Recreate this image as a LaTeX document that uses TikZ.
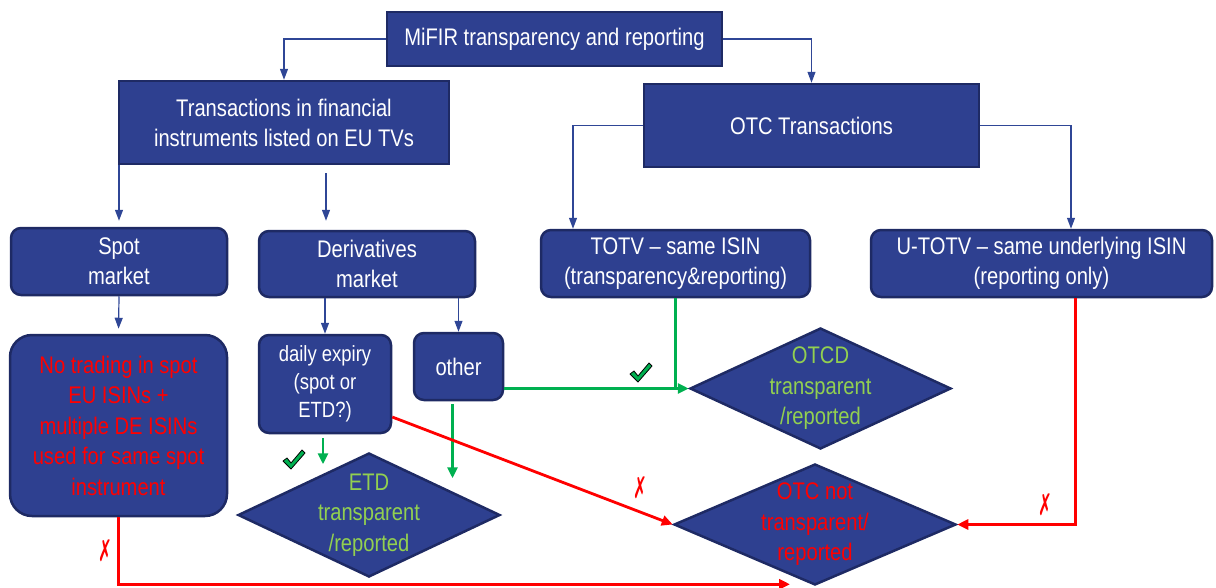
\documentclass[tikz,border=0pt]{standalone}
\usepackage{fontspec}
\setmainfont{Liberation Sans}[FakeStretch=0.84]
\newfontfamily\symfont{DejaVu Sans}
\usetikzlibrary{shapes.geometric,arrows.meta}
\definecolor{boxfill}{RGB}{46,64,144}
\definecolor{boxline}{RGB}{30,42,100}
\definecolor{conn}{RGB}{47,70,150}
\definecolor{okgreen}{RGB}{0,176,80}
\definecolor{txtgreen}{RGB}{146,208,80}
\definecolor{nored}{RGB}{255,0,0}
\begin{document}
\begin{tikzpicture}[x=1pt,y=-1pt,
 sq/.style={draw=boxline, line width=2.5pt, fill=boxfill, text=white, align=center, font=\fontsize{24}{30}\selectfont, inner sep=0pt},
 rbox/.style={sq, rounded corners=10pt},
 dia/.style={diamond, draw=boxline, line width=2.5pt, fill=boxfill, inner sep=0pt},
 lbl/.style={align=center, font=\fontsize{24}{30.5}\selectfont},
 bl/.style={draw=conn, line width=1.2pt, -{Triangle[length=11pt,width=8pt]}},
 gr/.style={draw=okgreen, line width=2.8pt, -{Triangle[length=11pt,width=10pt]}},
 gline/.style={draw=okgreen, line width=2.8pt},
 rd/.style={draw=nored, line width=2.8pt, -{Triangle[length=11pt,width=10pt]}},
 xmark/.style={text=nored, inner sep=0pt, font=\symfont\fontsize{30}{30}\selectfont},
 tick/.style={fill=okgreen, draw=black, line width=0.8pt, line join=round},
]
\useasboundingbox (0,0) rectangle (1216,587);

\node[sq, minimum width=335, minimum height=54] (mifir) at (554.5,39) {MiFIR transparency and reporting};
\node[sq, minimum width=330, minimum height=83] (trans) at (284,122.5) {Transactions in financial\\instruments listed on EU TVs};
\node[sq, minimum width=335, minimum height=83] (otc) at (811.5,125.5) {OTC Transactions};
\node[rbox, minimum width=216, minimum height=67] (spot) at (119,261.5) {Spot\\market};
\node[rbox, minimum width=216, minimum height=66] (deriv) at (367,264) {Derivatives\\market};
\node[rbox, minimum width=269, minimum height=67] (totv) at (675.5,263.5) {TOTV – same ISIN\\(transparency\&reporting)};
\node[rbox, minimum width=341, minimum height=67] (utotv) at (1041.5,263.5) {U-TOTV – same underlying ISIN\\(reporting only)};
\node[rbox, rounded corners=22pt, minimum width=217, minimum height=181, text=nored, font=\fontsize{24}{30.5}\selectfont] (notrad) at (118.5,425.5) {No trading in spot\\EU ISINs +\\multiple DE ISINs\\used for same spot\\instrument};
\node[rbox, minimum width=132, minimum height=98, font=\fontsize{22}{28}\selectfont] (daily) at (325,384) {daily expiry\\(spot or\\ETD?)};
\node[rbox, minimum width=89, minimum height=67] (other) at (458.5,366.5) {other};
\node[dia, minimum width=262, minimum height=124] (etd) at (369,515) {};
\node[lbl, text=txtgreen] (etdt) at (etd) {ETD\\transparent\\/reported};
\node[dia, minimum width=261, minimum height=121] (otcd) at (820.5,388.5) {};
\node[lbl, text=txtgreen] (otcdt) at (otcd) {OTCD\\transparent\\/reported};
\node[dia, minimum width=282, minimum height=121] (otcn) at (815,524.5) {};
\node[lbl, text=nored] (otcnt) at (otcn) {OTC not\\transparent/\\reported};

% blue connectors
\coordinate (d1) at ([shift={(-41,0)}]deriv.north);
\coordinate (t1) at ([shift={(-102.5,0)}]totv.north);
\coordinate (u1) at ([shift={(29.5,0)}]utotv.north);
\draw[bl] (mifir.west) -| (trans.north);
\draw[bl] (mifir.east) -| (otc.north);
\draw[bl, shorten >=6pt] (trans.south -| spot.north) -- (spot.north);
\draw[bl, shorten <=8pt, shorten >=9pt] (d1 |- trans.south) -- (d1);
\draw[bl] (otc.west) -| (t1);
\draw[bl] (otc.east) -| (u1);
\draw[bl, shorten >=5pt] (spot.south) -- (notrad.north);
\draw[bl] (deriv.south -| daily.north) -- (daily.north);
\draw[bl] (deriv.south -| other.north) -- (other.north);

% green connectors
\draw[gline] (totv.south) -- (totv.south |- otcd.west);
\draw[gr] (other.east |- otcd.west) -- (otcd.west);
\draw[gr] ([shift={(-2,4)}]daily.south) -- ([shift={(-2,30)}]daily.south);
\draw[gr] ([shift={(-6,3)}]other.south) -- ([shift={(-6,77)}]other.south);

% red connectors
\coordinate (nend) at ([shift={(-25,-2)}]otcn.south);
\draw[rd] ([shift={(0,33)}]daily.east) -- (otcn.west);
\draw[rd] ([shift={(34,0)}]utotv.south) |- (otcn.east);
\draw[rd] (notrad.south) -- (notrad.south |- nend) -- (nend);

% marks
\node[xmark] (x1) at (105,551) {\scalebox{0.55}[1]{✗}};
\node[xmark] (x2) at (640,488) {\scalebox{0.55}[1]{✗}};
\node[xmark] (x3) at (1045,505) {\scalebox{0.55}[1]{✗}};
\filldraw[tick] (630,374) -- ++(4,-3) -- ++(4,5) -- ++(11,-13) -- ++(3,3) -- ++(-14,16) -- cycle;
\filldraw[tick] (283,461) -- ++(4,-3) -- ++(4,5) -- ++(11,-13) -- ++(3,3) -- ++(-14,16) -- cycle;
\end{tikzpicture}
\end{document}
